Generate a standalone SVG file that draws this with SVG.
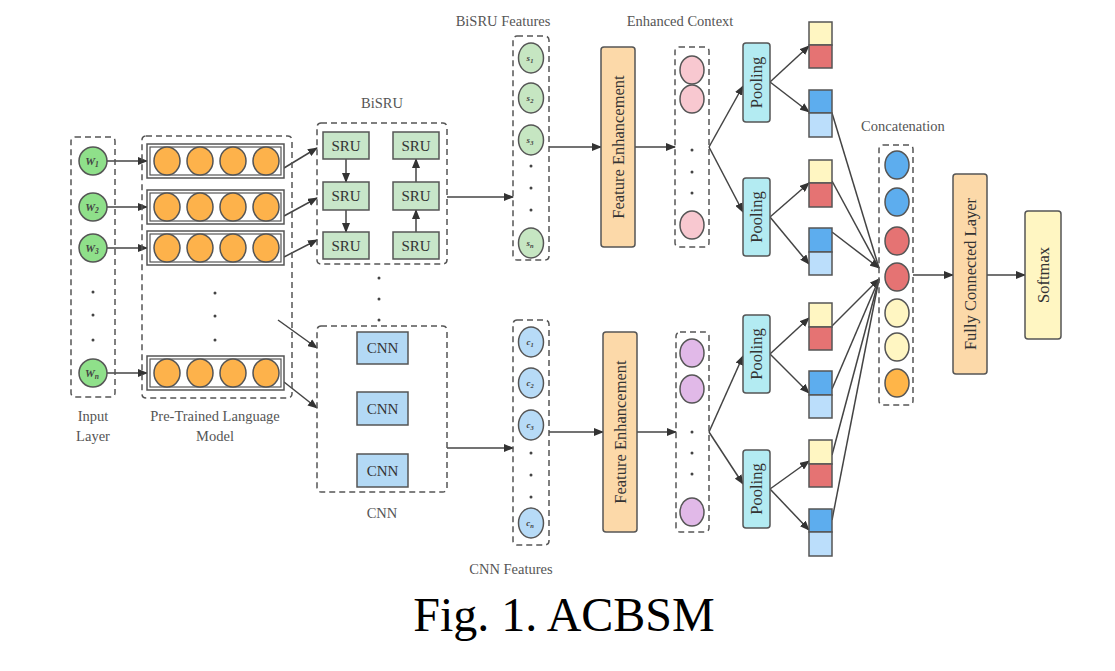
<svg xmlns="http://www.w3.org/2000/svg" width="1115" height="671" viewBox="0 0 1115 671">
<defs>
<marker id="ah" markerUnits="userSpaceOnUse" markerWidth="10" markerHeight="8" refX="9" refY="4" orient="auto">
<path d="M0,0 L10,4 L0,8 z" fill="#333"/>
</marker>
<style>
.dash{fill:none;stroke:#555;stroke-width:1.5;stroke-dasharray:6,4}
.lbl{font-family:"Liberation Serif","Times New Roman",serif;font-size:14.5px;fill:#555;text-anchor:middle}
.box{stroke:#555;stroke-width:1.5}
.thin{stroke:#555;stroke-width:1.2}
.btxt{font-family:"Liberation Serif","Times New Roman",serif;font-size:15px;fill:#333;text-anchor:middle}
.vt{font-family:"Liberation Serif","Times New Roman",serif;font-size:16.5px;fill:#333;text-anchor:middle}
.sub{font-family:"Liberation Serif","Times New Roman",serif;font-style:italic;font-weight:bold;fill:#444;text-anchor:middle}
.c{stroke:#555;stroke-width:1.5}
.gr{fill:#8FE08A}.or{fill:#FDB24B}.lg{fill:#C6E6C2}.lb{fill:#B7DBF7}.pk{fill:#F8C8D0}.pu{fill:#E1B9E8}
.fe{fill:#FCD9A9}.po{fill:#B3EBF2}.ye{fill:#FFF6C2}.rd{fill:#E57373}.bl{fill:#5DADEE}.lbl2{fill:#BBDEFB}.sru{fill:#C8E6C9}.cnn{fill:#B3D9F5}.oc{fill:#FFB548}
.ln{fill:none;stroke:#444;stroke-width:1.5}
.dot{fill:#444}
</style>
</defs>
<rect width="1115" height="671" fill="#fff"/>

<g id="connectors">
<line class="ln" x1="107" y1="161" x2="147" y2="161" marker-end="url(#ah)"/>
<line class="ln" x1="107" y1="207" x2="147" y2="207" marker-end="url(#ah)"/>
<line class="ln" x1="107" y1="248" x2="147" y2="248" marker-end="url(#ah)"/>
<line class="ln" x1="107" y1="373" x2="147" y2="373" marker-end="url(#ah)"/>
<line class="ln" x1="284" y1="168" x2="317" y2="148" marker-end="url(#ah)"/>
<line class="ln" x1="284" y1="216" x2="317" y2="198" marker-end="url(#ah)"/>
<line class="ln" x1="284" y1="257" x2="317" y2="240" marker-end="url(#ah)"/>
<line class="ln" x1="278" y1="320" x2="317" y2="348" marker-end="url(#ah)"/>
<line class="ln" x1="284" y1="382" x2="317" y2="408" marker-end="url(#ah)"/>
<line class="ln" x1="346" y1="159" x2="346" y2="182" marker-end="url(#ah)"/>
<line class="ln" x1="346" y1="210" x2="346" y2="232" marker-end="url(#ah)"/>
<line class="ln" x1="416" y1="232" x2="416" y2="210" marker-end="url(#ah)"/>
<line class="ln" x1="416" y1="182" x2="416" y2="159" marker-end="url(#ah)"/>
<line class="ln" x1="447" y1="197" x2="513" y2="197" marker-end="url(#ah)"/>
<line class="ln" x1="447" y1="448" x2="513" y2="448" marker-end="url(#ah)"/>
<line class="ln" x1="549" y1="147" x2="601" y2="147" marker-end="url(#ah)"/>
<line class="ln" x1="635" y1="147" x2="675" y2="147" marker-end="url(#ah)"/>
<line class="ln" x1="549" y1="432" x2="603" y2="432" marker-end="url(#ah)"/>
<line class="ln" x1="637" y1="432" x2="676" y2="432" marker-end="url(#ah)"/>
<line class="ln" x1="709" y1="147" x2="743" y2="86" marker-end="url(#ah)"/>
<line class="ln" x1="709" y1="147" x2="743" y2="212" marker-end="url(#ah)"/>
<line class="ln" x1="709" y1="432" x2="743" y2="356" marker-end="url(#ah)"/>
<line class="ln" x1="709" y1="432" x2="743" y2="484" marker-end="url(#ah)"/>
<line class="ln" x1="770" y1="82" x2="809" y2="46" marker-end="url(#ah)"/>
<line class="ln" x1="770" y1="82" x2="809" y2="112" marker-end="url(#ah)"/>
<line class="ln" x1="770" y1="217" x2="809" y2="183" marker-end="url(#ah)"/>
<line class="ln" x1="770" y1="217" x2="809" y2="264" marker-end="url(#ah)"/>
<line class="ln" x1="770" y1="354" x2="809" y2="318" marker-end="url(#ah)"/>
<line class="ln" x1="770" y1="354" x2="809" y2="393" marker-end="url(#ah)"/>
<line class="ln" x1="770" y1="489" x2="809" y2="461" marker-end="url(#ah)"/>
<line class="ln" x1="770" y1="489" x2="809" y2="530" marker-end="url(#ah)"/>
<line class="ln" x1="832" y1="113" x2="879" y2="268"/>
<line class="ln" x1="832" y1="181" x2="879" y2="268"/>
<line class="ln" x1="832" y1="232" x2="879" y2="268" marker-end="url(#ah)"/>
<line class="ln" x1="832" y1="326" x2="879" y2="279" marker-end="url(#ah)"/>
<line class="ln" x1="832" y1="389" x2="879" y2="279"/>
<line class="ln" x1="832" y1="455" x2="879" y2="279"/>
<line class="ln" x1="832" y1="520" x2="879" y2="279"/>
<line class="ln" x1="913" y1="275" x2="953" y2="275" marker-end="url(#ah)"/>
<line class="ln" x1="987" y1="275" x2="1025" y2="275" marker-end="url(#ah)"/>
</g>

<g id="input-layer">
<rect class="dash" x="71" y="137" width="44" height="260" rx="4"/>
<circle class="c gr" cx="93" cy="161" r="14"/>
<circle class="c gr" cx="93" cy="207" r="14"/>
<circle class="c gr" cx="93" cy="248" r="14"/>
<circle class="c gr" cx="93" cy="373" r="14"/>
<text class="sub" font-size="11" x="92" y="165">W<tspan font-size="7.5" dy="2">1</tspan></text>
<text class="sub" font-size="11" x="92" y="211">W<tspan font-size="7.5" dy="2">2</tspan></text>
<text class="sub" font-size="11" x="92" y="252">W<tspan font-size="7.5" dy="2">3</tspan></text>
<text class="sub" font-size="11" x="92" y="377">W<tspan font-size="7.5" dy="2">n</tspan></text>
<circle class="dot" cx="93" cy="292" r="1.5"/>
<circle class="dot" cx="93" cy="315" r="1.5"/>
<circle class="dot" cx="93" cy="340" r="1.5"/>
<text class="lbl" x="93" y="421">Input</text>
<text class="lbl" x="93" y="441">Layer</text>
</g>

<g id="plm">
<rect class="dash" x="142" y="136" width="150" height="262" rx="4"/>
<g>
<rect x="147" y="144" width="137" height="34" fill="#fff" class="box"/>
<rect x="150" y="147" width="131" height="28" fill="none" class="thin"/>
<ellipse class="c or" cx="167" cy="161" rx="13" ry="14"/><ellipse class="c or" cx="200" cy="161" rx="13" ry="14"/><ellipse class="c or" cx="233" cy="161" rx="13" ry="14"/><ellipse class="c or" cx="266" cy="161" rx="13" ry="14"/>
</g>
<g>
<rect x="147" y="190" width="137" height="34" fill="#fff" class="box"/>
<rect x="150" y="193" width="131" height="28" fill="none" class="thin"/>
<ellipse class="c or" cx="167" cy="207" rx="13" ry="14"/><ellipse class="c or" cx="200" cy="207" rx="13" ry="14"/><ellipse class="c or" cx="233" cy="207" rx="13" ry="14"/><ellipse class="c or" cx="266" cy="207" rx="13" ry="14"/>
</g>
<g>
<rect x="147" y="231" width="137" height="34" fill="#fff" class="box"/>
<rect x="150" y="234" width="131" height="28" fill="none" class="thin"/>
<ellipse class="c or" cx="167" cy="248" rx="13" ry="14"/><ellipse class="c or" cx="200" cy="248" rx="13" ry="14"/><ellipse class="c or" cx="233" cy="248" rx="13" ry="14"/><ellipse class="c or" cx="266" cy="248" rx="13" ry="14"/>
</g>
<g>
<rect x="147" y="356" width="137" height="34" fill="#fff" class="box"/>
<rect x="150" y="359" width="131" height="28" fill="none" class="thin"/>
<ellipse class="c or" cx="167" cy="373" rx="13" ry="14"/><ellipse class="c or" cx="200" cy="373" rx="13" ry="14"/><ellipse class="c or" cx="233" cy="373" rx="13" ry="14"/><ellipse class="c or" cx="266" cy="373" rx="13" ry="14"/>
</g>
<circle class="dot" cx="215" cy="293" r="1.5"/>
<circle class="dot" cx="215" cy="316" r="1.5"/>
<circle class="dot" cx="215" cy="340" r="1.5"/>
<text class="lbl" x="215" y="421">Pre-Trained Language</text>
<text class="lbl" x="215" y="441">Model</text>
</g>

<g id="bisru">
<text class="lbl" x="382" y="108">BiSRU</text>
<rect class="dash" x="317" y="123" width="130" height="141" rx="4"/>
<rect class="box sru" x="323" y="132" width="46" height="27"/><text class="btxt" x="346" y="151">SRU</text>
<rect class="box sru" x="393" y="132" width="46" height="27"/><text class="btxt" x="416" y="151">SRU</text>
<rect class="box sru" x="323" y="182" width="46" height="28"/><text class="btxt" x="346" y="201">SRU</text>
<rect class="box sru" x="393" y="182" width="46" height="28"/><text class="btxt" x="416" y="201">SRU</text>
<rect class="box sru" x="323" y="232" width="46" height="27"/><text class="btxt" x="346" y="251">SRU</text>
<rect class="box sru" x="393" y="232" width="46" height="27"/><text class="btxt" x="416" y="251">SRU</text>
<circle class="dot" cx="379" cy="278" r="1.5"/>
<circle class="dot" cx="379" cy="299" r="1.5"/>
<circle class="dot" cx="379" cy="320" r="1.5"/>
</g>

<g id="cnn">
<rect class="dash" x="317" y="326" width="130" height="166" rx="4"/>
<rect class="box cnn" x="357" y="332" width="51" height="32"/><text class="btxt" x="382.5" y="353">CNN</text>
<rect class="box cnn" x="357" y="392" width="51" height="33"/><text class="btxt" x="382.5" y="414">CNN</text>
<rect class="box cnn" x="357" y="454" width="51" height="33"/><text class="btxt" x="382.5" y="476">CNN</text>
<text class="lbl" x="382" y="518">CNN</text>
</g>

<g id="bisru-features">
<text class="lbl" x="503" y="26">BiSRU Features</text>
<rect class="dash" x="513" y="36" width="36" height="224" rx="4"/>
<ellipse class="c lg" cx="531" cy="58" rx="12.5" ry="15"/>
<ellipse class="c lg" cx="531" cy="98" rx="12.5" ry="15"/>
<ellipse class="c lg" cx="531" cy="140" rx="12.5" ry="15"/>
<ellipse class="c lg" cx="531" cy="243" rx="12.5" ry="15"/>
<text class="sub" font-size="9" x="530" y="61">s<tspan font-size="6.5" dy="1.5">1</tspan></text>
<text class="sub" font-size="9" x="530" y="101">s<tspan font-size="6.5" dy="1.5">2</tspan></text>
<text class="sub" font-size="9" x="530" y="143">s<tspan font-size="6.5" dy="1.5">3</tspan></text>
<text class="sub" font-size="9" x="530" y="246">s<tspan font-size="6.5" dy="1.5">n</tspan></text>
<circle class="dot" cx="531" cy="166" r="1.5"/>
<circle class="dot" cx="531" cy="188" r="1.5"/>
<circle class="dot" cx="531" cy="210" r="1.5"/>
</g>

<g id="cnn-features">
<rect class="dash" x="513" y="320" width="36" height="225" rx="4"/>
<ellipse class="c lb" cx="531" cy="342" rx="12.5" ry="15"/>
<ellipse class="c lb" cx="531" cy="383" rx="12.5" ry="15"/>
<ellipse class="c lb" cx="531" cy="425" rx="12.5" ry="15"/>
<ellipse class="c lb" cx="531" cy="523" rx="12.5" ry="15"/>
<text class="sub" font-size="9" x="530" y="345">c<tspan font-size="6.5" dy="1.5">1</tspan></text>
<text class="sub" font-size="9" x="530" y="386">c<tspan font-size="6.5" dy="1.5">2</tspan></text>
<text class="sub" font-size="9" x="530" y="428">c<tspan font-size="6.5" dy="1.5">3</tspan></text>
<text class="sub" font-size="9" x="530" y="526">c<tspan font-size="6.5" dy="1.5">n</tspan></text>
<circle class="dot" cx="531" cy="453" r="1.5"/>
<circle class="dot" cx="531" cy="475" r="1.5"/>
<circle class="dot" cx="531" cy="497" r="1.5"/>
<text class="lbl" x="511" y="574">CNN Features</text>
</g>

<g id="fe-top">
<rect class="box fe" x="601" y="47" width="34" height="200" rx="3"/>
<text class="vt" transform="translate(624,147) rotate(-90)">Feature Enhancement</text>
</g>
<g id="fe-bottom">
<rect class="box fe" x="603" y="332" width="34" height="200" rx="3"/>
<text class="vt" transform="translate(626,432) rotate(-90)">Feature Enhancement</text>
</g>

<g id="context-top">
<text class="lbl" x="680" y="26">Enhanced Context</text>
<rect class="dash" x="675" y="47" width="34" height="200" rx="4"/>
<ellipse class="c pk" cx="692" cy="70" rx="12" ry="14"/>
<ellipse class="c pk" cx="692" cy="99" rx="12" ry="14"/>
<ellipse class="c pk" cx="692" cy="225" rx="12" ry="14"/>
<circle class="dot" cx="692" cy="150" r="1.5"/>
<circle class="dot" cx="692" cy="172" r="1.5"/>
<circle class="dot" cx="692" cy="193" r="1.5"/>
</g>
<g id="context-bottom">
<rect class="dash" x="676" y="332" width="33" height="200" rx="4"/>
<ellipse class="c pu" cx="692" cy="353" rx="12" ry="14"/>
<ellipse class="c pu" cx="692" cy="389" rx="12" ry="14"/>
<ellipse class="c pu" cx="692" cy="512" rx="12" ry="14"/>
<circle class="dot" cx="692" cy="432" r="1.5"/>
<circle class="dot" cx="692" cy="453" r="1.5"/>
<circle class="dot" cx="692" cy="474" r="1.5"/>
</g>

<g id="pooling-1"><rect class="box po" x="743" y="43" width="27" height="79" rx="3"/><text class="vt" transform="translate(762,82.5) rotate(-90)">Pooling</text></g>
<g id="pooling-2"><rect class="box po" x="743" y="178" width="27" height="78" rx="3"/><text class="vt" transform="translate(762,217) rotate(-90)">Pooling</text></g>
<g id="pooling-3"><rect class="box po" x="743" y="315" width="27" height="78" rx="3"/><text class="vt" transform="translate(762,354) rotate(-90)">Pooling</text></g>
<g id="pooling-4"><rect class="box po" x="743" y="450" width="27" height="78" rx="3"/><text class="vt" transform="translate(762,489) rotate(-90)">Pooling</text></g>

<g id="sq-1"><rect class="box ye" x="809" y="22" width="23" height="23"/><rect class="box rd" x="809" y="45" width="23" height="23"/></g>
<g id="sq-2"><rect class="box bl" x="809" y="90" width="23" height="23"/><rect class="box lbl2" x="809" y="113" width="23" height="24"/></g>
<g id="sq-3"><rect class="box ye" x="809" y="160" width="23" height="23"/><rect class="box rd" x="809" y="183" width="23" height="24"/></g>
<g id="sq-4"><rect class="box bl" x="809" y="228" width="23" height="24"/><rect class="box lbl2" x="809" y="252" width="23" height="23"/></g>
<g id="sq-5"><rect class="box ye" x="809" y="303" width="23" height="24"/><rect class="box rd" x="809" y="327" width="23" height="23"/></g>
<g id="sq-6"><rect class="box bl" x="809" y="371" width="23" height="24"/><rect class="box lbl2" x="809" y="395" width="23" height="23"/></g>
<g id="sq-7"><rect class="box ye" x="809" y="440" width="23" height="24"/><rect class="box rd" x="809" y="464" width="23" height="23"/></g>
<g id="sq-8"><rect class="box bl" x="809" y="509" width="23" height="23"/><rect class="box lbl2" x="809" y="532" width="23" height="24"/></g>

<g id="concatenation">
<text class="lbl" x="903" y="131">Concatenation</text>
<rect class="dash" x="879" y="145" width="34" height="260" rx="4"/>
<ellipse class="c bl" cx="897" cy="165" rx="12" ry="14"/>
<ellipse class="c bl" cx="897" cy="202" rx="12" ry="14"/>
<ellipse class="c rd" cx="897" cy="241" rx="12" ry="14"/>
<ellipse class="c rd" cx="897" cy="277" rx="12" ry="14"/>
<ellipse class="c ye" cx="897" cy="313" rx="12" ry="14"/>
<ellipse class="c ye" cx="897" cy="347" rx="12" ry="14"/>
<ellipse class="c oc" cx="897" cy="383" rx="12" ry="14"/>
</g>

<g id="fully-connected">
<rect class="box fe" x="953" y="174" width="34" height="200" rx="3"/>
<text class="vt" transform="translate(976,274) rotate(-90)">Fully Connected Layer</text>
</g>
<g id="softmax">
<rect class="box ye" x="1025" y="211" width="36" height="128" rx="3"/>
<text class="vt" transform="translate(1049,275) rotate(-90)">Softmax</text>
</g>

<text x="564" y="631" font-family="'Liberation Serif','Times New Roman',serif" font-size="48" fill="#000" text-anchor="middle">Fig. 1. ACBSM</text>
</svg>
